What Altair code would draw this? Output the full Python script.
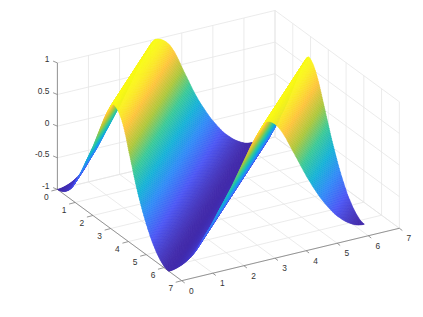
import numpy as np
import pandas as pd
import altair as alt

alt.data_transformers.disable_max_rows()

rise_z = [-1.0, -0.997, -0.989, -0.977, -0.962, -0.944, -0.92, -0.892, -0.86, -0.822,
          -0.775, -0.715, -0.65, -0.59, -0.53, -0.47, -0.40, -0.33, -0.255, -0.19,
          -0.12, -0.05, 0.02, 0.09, 0.17, 0.25, 0.33, 0.41, 0.49, 0.57,
          0.65, 0.72, 0.79, 0.85, 0.915, 0.97, 1.0]
fall_z_first = [0.995, 0.98, 0.955, 0.92, 0.875, 0.815, 0.74, 0.65, 0.55, 0.445, 0.345, 0.25, 0.15, 0.05,
                -0.04, -0.125, -0.205, -0.28, -0.355, -0.425, -0.49, -0.55, -0.61, -0.665,
                -0.72, -0.765, -0.805, -0.845, -0.88, -0.91, -0.937, -0.96, -0.98, -0.992, -0.998]
fall_z_second = [0.99, 0.965, 0.93, 0.88, 0.82, 0.75, 0.67, 0.58, 0.49, 0.40, 0.31, 0.22, 0.13, 0.04,
                 -0.045, -0.125, -0.205, -0.28, -0.355, -0.425, -0.49, -0.55, -0.61, -0.665,
                 -0.72, -0.765, -0.805, -0.845, -0.88, -0.91, -0.937, -0.96, -0.98, -0.992, -0.998]
profile_z = rise_z + fall_z_first + rise_z + fall_z_second + [-1.0]

x_ticks = [0, 1, 2, 3, 4, 5, 6, 7]
y_ticks = [0, 1, 2, 3, 4, 5, 6, 7]
z_ticks = [-1, -0.5, 0, 0.5, 1]
z_labels = ["-1", "-0.5", "0", "0.5", "1"]
parula = ["#3e26a8", "#4752f4", "#2d87f7", "#11b1d6", "#37c897", "#abc739", "#fec338", "#f9fb15"]

# Fixed orthographic view of the MATLAB axes
ORIGIN = (57.4, 189.4)
XU = (31.09, -7.49)
YU = (17.76, 13.04)
ZU = 63.25
XMAX, YMAX = 7, 7
SPAN = 2 * np.pi


def proj(x, y, z):
    return (ORIGIN[0] + x * XU[0] + y * YU[0],
            ORIGIN[1] + x * XU[1] + y * YU[1] - (z + 1) * ZU)


# --- surface, painted far to near as strips of constant x + y
SUB = 4
rows = []
strip = 0
step = SPAN / 72
for k in range(len(profile_z) - 1):
    for s in range(SUB):
        t0, t1 = s / SUB, (s + 1) / SUB
        c0 = (k + t0) * step
        c1 = (k + t1) * step
        z0 = profile_z[k] + (profile_z[k + 1] - profile_z[k]) * t0
        z1 = profile_z[k] + (profile_z[k + 1] - profile_z[k]) * t1
        a0 = max(0, c0 - SPAN); b0 = min(c0, SPAN)
        a1 = max(0, c1 - SPAN); b1 = min(c1, SPAN)
        corners = [(a0, c0 - a0, z0), (b0, c0 - b0, z0), (b1, c1 - b1, z1), (a1, c1 - a1, z1), (a0, c0 - a0, z0)]
        for v, (x, y, z) in enumerate(corners):
            sx, sy = proj(x, y, z)
            rows.append(dict(strip=strip, v=v, sx=sx, sy=sy, z=(z0 + z1) / 2))
        strip += 1
surface = pd.DataFrame(rows)


# --- box lines
def seg(rows_, a, b):
    p, q = proj(*a), proj(*b)
    rows_.append(dict(sx=p[0], sy=p[1], sx2=q[0], sy2=q[1]))


grid = []
for x in x_ticks:
    seg(grid, (x, 0, -1), (x, YMAX, -1))
    seg(grid, (x, 0, -1), (x, 0, 1))
for y in y_ticks:
    seg(grid, (0, y, -1), (XMAX, y, -1))
    seg(grid, (XMAX, y, -1), (XMAX, y, 1))
for z in z_ticks:
    seg(grid, (0, 0, z), (XMAX, 0, z))
    seg(grid, (XMAX, 0, z), (XMAX, YMAX, z))
grid = pd.DataFrame(grid)

axes = []
seg(axes, (0, 0, -1), (0, YMAX, -1))
seg(axes, (0, YMAX, -1), (XMAX, YMAX, -1))
seg(axes, (0, 0, -1), (0, 0, 1))
for y in y_ticks:
    p = proj(0, y, -1)
    axes.append(dict(sx=p[0], sy=p[1], sx2=p[0] - 6, sy2=p[1] + 1.6))
for x in x_ticks:
    p = proj(x, YMAX, -1)
    axes.append(dict(sx=p[0], sy=p[1], sx2=p[0] + 3, sy2=p[1] + 2.3))
for z in z_ticks:
    p = proj(0, 0, z)
    axes.append(dict(sx=p[0], sy=p[1], sx2=p[0] - 4.3, sy2=p[1] - 1.8))
axes = pd.DataFrame(axes)

labels = []
for y in y_ticks:
    p = proj(0, y, -1)
    labels.append(dict(sx=p[0] - 11, sy=p[1] + 7.2, t=str(y)))
for x in x_ticks:
    p = proj(x, YMAX, -1)
    labels.append(dict(sx=p[0] + 9.6, sy=p[1] + 10.2, t=str(x)))
center_labels = pd.DataFrame(labels)
z_label_df = pd.DataFrame([
    dict(sx=proj(0, 0, z)[0] - 8, sy=proj(0, 0, z)[1] - 3.6, t=t) for z, t in zip(z_ticks, z_labels)
])

X = alt.X("sx:Q", scale=alt.Scale(domain=[8, 415], nice=False, zero=False), axis=None)
Y = alt.Y("sy:Q", scale=alt.Scale(domain=[309, 8], nice=False, zero=False), axis=None)
color_scale = alt.Scale(domain=list(np.linspace(-1, 1, len(parula))), range=parula, interpolate="rgb")

grid_layer = alt.Chart(grid).mark_rule(color="#e6e6e6", strokeWidth=0.8).encode(x=X, y=Y, x2="sx2:Q", y2="sy2:Q")
axes_layer = alt.Chart(axes).mark_rule(color="#7d7d7d", strokeWidth=0.8).encode(x=X, y=Y, x2="sx2:Q", y2="sy2:Q")
surface_layer = alt.Chart(surface).mark_line(strokeWidth=0.5, strokeCap="butt", strokeJoin="round").encode(
    x=X, y=Y,
    detail="strip:O",
    order=alt.Order("v:Q"),
    fill=alt.Fill("z:Q", scale=color_scale, legend=None),
    stroke=alt.Stroke("z:Q", scale=color_scale, legend=None),
)
text_c = alt.Chart(center_labels).mark_text(font="Liberation Sans", fontSize=8.4, color="#333333", align="center", baseline="middle").encode(x=X, y=Y, text="t:N")
text_z = alt.Chart(z_label_df).mark_text(font="Liberation Sans", fontSize=8.4, color="#333333", align="right", baseline="middle").encode(x=X, y=Y, text="t:N")

chart = alt.layer(grid_layer, axes_layer, surface_layer, text_c, text_z).properties(
    width=407, height=301, padding=0, autosize=alt.AutoSizeParams(type="none")
).configure_view(stroke=None)

chart.save("out.html", embed_options={"renderer": "svg", "actions": False})
